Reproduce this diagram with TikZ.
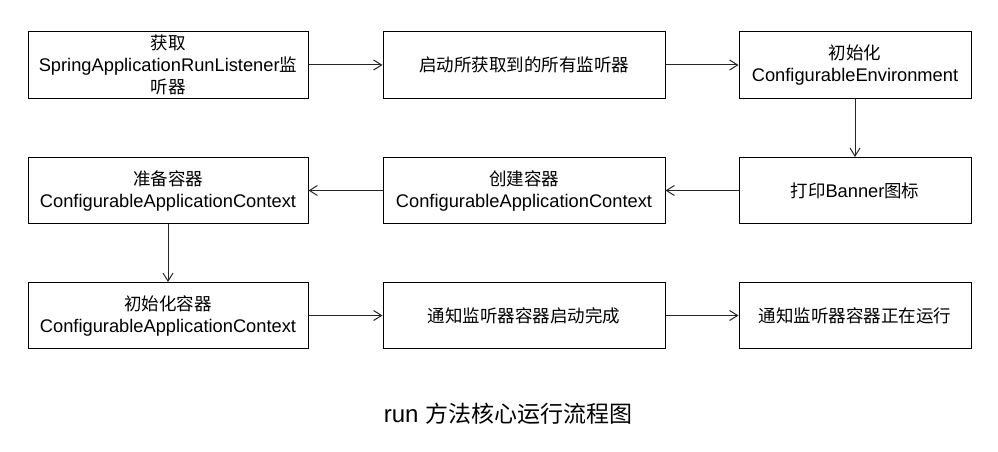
\documentclass[tikz,border=0pt]{standalone}
\usepackage{fontspec}
\setmainfont{Liberation Sans}[Scale=1.045]
\newfontfamily\cjk{Noto Sans CJK SC}
\usetikzlibrary{arrows.meta}
\begin{document}
\begin{tikzpicture}[x=1pt,y=-1pt,
  stepbox/.style={draw=black,line width=1pt,rectangle,minimum height=66pt,align=center,inner sep=0pt,font=\fontsize{17.5}{22}\selectfont},
  wideA/.style={stepbox,minimum width=280pt},
  wideB/.style={stepbox,minimum width=282pt},
  wideC/.style={stepbox,minimum width=232pt},
  flow/.style={draw=black!85,line width=1pt,-{Straight Barb[length=8pt,width=10pt,line width=1pt]}}]
\useasboundingbox (0,0) rectangle (998,452);
\node[wideA] (b1) at (168,65) {{\cjk 获取}\\SpringApplicationRunListener{\cjk 监}\\{\cjk 听器}};
\node[wideB] (b2) at (524,65) {{\cjk 启动所获取到的所有监听器}};
\node[wideC] (b3) at (855,65) {{\cjk 初始化}\\ConfigurableEnvironment};
\node[wideC] (b4) at (855,190.5) {{\cjk 打印}Banner{\cjk 图标}};
\node[wideB] (b5) at (524,190.5) {{\cjk 创建容器}\\ConfigurableApplicationContext};
\node[wideA] (b6) at (168,190.5) {{\cjk 准备容器}\\ConfigurableApplicationContext};
\node[wideA] (b7) at (168,315.5) {{\cjk 初始化容器}\\ConfigurableApplicationContext};
\node[wideB] (b8) at (524,315.5) {{\cjk 通知监听器容器启动完成}};
\node[wideC] (b9) at (855,315.5) {{\cjk 通知监听器容器正在运行}};
\node[font=\fontsize{23}{26}\selectfont,inner sep=0pt] (cap) at (508,414) {run {\cjk 方法核心运行流程图}};
\draw[flow] (b1) -- (b2);
\draw[flow] (b2) -- (b3);
\draw[flow] (b3) -- (b4);
\draw[flow] (b4) -- (b5);
\draw[flow] (b5) -- (b6);
\draw[flow] (b6) -- (b7);
\draw[flow] (b7) -- (b8);
\draw[flow] (b8) -- (b9);
\end{tikzpicture}
\end{document}
